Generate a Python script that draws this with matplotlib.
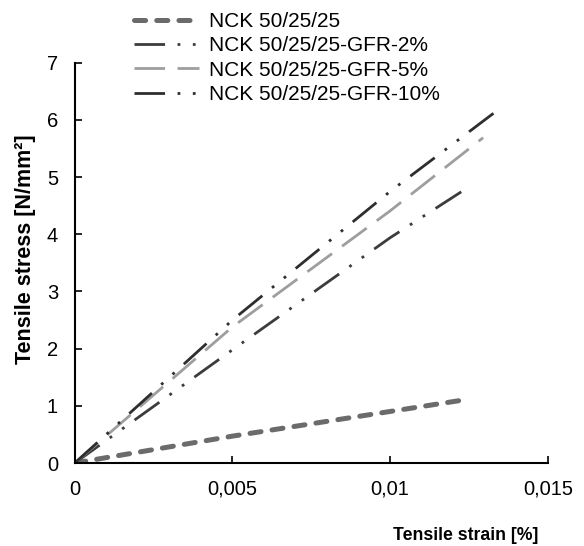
import matplotlib
matplotlib.use("Agg")
import matplotlib.pyplot as plt
from matplotlib.ticker import FixedLocator

plt.rcParams['font.family'] = ['Liberation Sans', 'DejaVu Sans']
plt.rcParams['lines.scale_dashes'] = False

labels = ["NCK 50/25/25", "NCK 50/25/25-GFR-2%", "NCK 50/25/25-GFR-5%", "NCK 50/25/25-GFR-10%"]
strain_base = [0.0, 0.005, 0.0123]
stress_base = [0.0, 0.47, 1.10]
strain_2 = [0.0, 0.005, 0.010, 0.0125]
stress_2 = [0.0, 1.98, 3.94, 4.83]
strain_5 = [0.0, 0.005, 0.010, 0.01295]
stress_5 = [0.0, 2.38, 4.41, 5.69]
strain_10 = [0.0, 0.005, 0.010, 0.01343]
stress_10 = [0.0, 2.50, 4.75, 6.18]

xticks = [0, 0.005, 0.01, 0.015]
xticklabels = ["0", "0,005", "0,01", "0,015"]
yticks = [0, 1, 2, 3, 4, 5, 6, 7]

fig = plt.figure(figsize=(5.84, 5.46), dpi=100)
ax = fig.add_axes([0.128, 0.152, 0.81, 0.733])

l0, = ax.plot(strain_base, stress_base, color='#6b6b6b', lw=3.6, dashes=(8, 8),
              dash_capstyle='round', label=labels[0])
l1, = ax.plot(strain_2, stress_2, color='#3c3c3c', lw=2.0, dashes=(22, 9, 2, 9, 2, 9), label=labels[1])
l2, = ax.plot(strain_5, stress_5, color='#9e9e9e', lw=2.0, dashes=(22, 9), label=labels[2])
l3, = ax.plot(strain_10, stress_10, color='#2e2e2e', lw=2.0, dashes=(22, 9, 2, 9, 2, 9), label=labels[3])

ax.set_xlim(0, 0.015)
ax.set_ylim(0, 7)
ax.xaxis.set_major_locator(FixedLocator(xticks))
ax.set_xticklabels(xticklabels)
ax.set_yticks(yticks)
ax.tick_params(axis='both', direction='in', length=5, width=1.2, labelsize=14.5, colors='black')
ax.tick_params(axis='x', pad=12)
ax.tick_params(axis='y', pad=12)
for s in ['top', 'right']:
    ax.spines[s].set_visible(False)
for s in ['left', 'bottom']:
    ax.spines[s].set_linewidth(1.5)

fig.text(0.922, 0.020, "Tensile strain [%]", fontsize=12.7, fontweight='bold', ha='right', va='center')
fig.text(0.043, 0.544, "Tensile stress [N/mm²]", fontsize=15.5, fontweight='bold', ha='center', va='center', rotation=90)

fig.legend(handles=[l0, l1, l2, l3], loc='upper left', bbox_to_anchor=(0.198, 1.012),
           frameon=False, fontsize=15, handlelength=3.1, handletextpad=0.5, labelspacing=0.25)

fig.savefig("out.png", dpi=100)
